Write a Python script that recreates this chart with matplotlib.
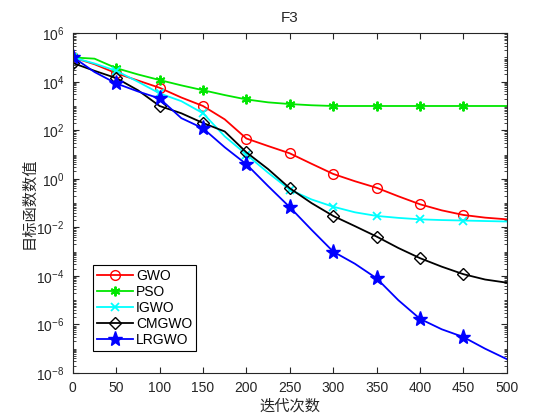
import numpy as np
import matplotlib
matplotlib.use('Agg')
import matplotlib.pyplot as plt
from matplotlib.ticker import LogLocator, NullFormatter

plt.rcParams['font.family'] = ['Liberation Sans', 'Noto Sans CJK SC', 'DejaVu Sans']

# iterations sampled every 25 steps
iters = np.arange(0, 501, 25)

# log10 of best objective value
gwo_log = [5.0, 4.72, 4.35, 4.05, 3.75, 3.35, 3.0, 2.45, 1.66, 1.35, 1.05, 0.62,
           0.2, -0.1, -0.37, -0.72, -1.05, -1.3, -1.49, -1.6, -1.67]
pso_log = [5.0, 4.95, 4.56, 4.3, 4.07, 3.85, 3.65, 3.45, 3.27, 3.15, 3.08, 3.03,
           3.0, 3.0, 3.0, 3.0, 3.0, 3.0, 3.0, 3.0, 3.0]
igwo_log = [5.0, 4.75, 4.45, 4.0, 3.52, 3.2, 2.7, 1.75, 1.0, 0.25, -0.45, -0.85,
            -1.15, -1.38, -1.53, -1.61, -1.67, -1.7, -1.72, -1.74, -1.76]
cmgwo_log = [4.77, 4.45, 4.15, 3.65, 3.0, 2.7, 2.3, 1.95, 1.09, 0.4, -0.39, -1.0,
             -1.53, -1.95, -2.38, -2.85, -3.27, -3.62, -3.93, -4.15, -4.28]
lrgwo_log = [5.02, 4.4, 3.93, 3.6, 3.31, 2.5, 2.08, 1.3, 0.6, -0.3, -1.17, -2.1,
             -3.0, -3.5, -4.1, -5.0, -5.77, -6.2, -6.52, -7.0, -7.43]

names = ['GWO', 'PSO', 'IGWO', 'CMGWO', 'LRGWO']
series = [gwo_log, pso_log, igwo_log, cmgwo_log, lrgwo_log]

styles = [
    dict(color=(1, 0, 0), marker='o', mfc='none', ms=7),
    dict(color=(0, 0.9, 0), marker=(6, 2, 0), ms=7, mew=1.4),
    dict(color=(0, 1, 1), marker='x', ms=6, mew=1.3),
    dict(color='k', marker='D', mfc='none', ms=6),
    dict(color=(0, 0, 1), marker='*', ms=11),
]

fig = plt.figure(figsize=(5.6, 4.2), dpi=100)
ax = fig.add_axes([0.13, 0.112, 0.775, 0.809])

for name, vals, st in zip(names, series, styles):
    ax.semilogy(iters, 10.0 ** np.array(vals), lw=1.3, label=name,
                markevery=slice(0, 20, 2), **st)

ax.set_xlim(0, 500)
ax.set_ylim(1e-8, 1e6)
ax.set_xticks(np.arange(0, 501, 50))
ax.set_yticks([10.0 ** k for k in range(-8, 7, 2)])
ax.yaxis.set_minor_locator(LogLocator(base=10, subs=np.arange(1, 10), numticks=30))
ax.yaxis.set_minor_formatter(NullFormatter())
ax.tick_params(which='both', direction='in', top=True, right=True, labelsize=10,
               colors='#262626', pad=6)
ax.tick_params(which='major', length=4)
ax.tick_params(which='minor', length=2)
for sp in ax.spines.values():
    sp.set_color('#262626')
    sp.set_linewidth(0.8)

ax.set_title('F3', fontsize=11, color='#262626', pad=8)
ax.set_xlabel('迭代次数', fontsize=11, color='#262626', labelpad=3)
ax.set_ylabel('目标函数数值', fontsize=11, color='#262626', labelpad=0)

leg = ax.legend(loc='lower left', bbox_to_anchor=(0.04, 0.055), fontsize=10,
                handlelength=2.6, handletextpad=0.2, labelspacing=0.15,
                borderpad=0.3, borderaxespad=0.2, fancybox=False, framealpha=1,
                edgecolor='k')
leg.get_frame().set_linewidth(0.8)

fig.savefig('out.png', dpi=100)
